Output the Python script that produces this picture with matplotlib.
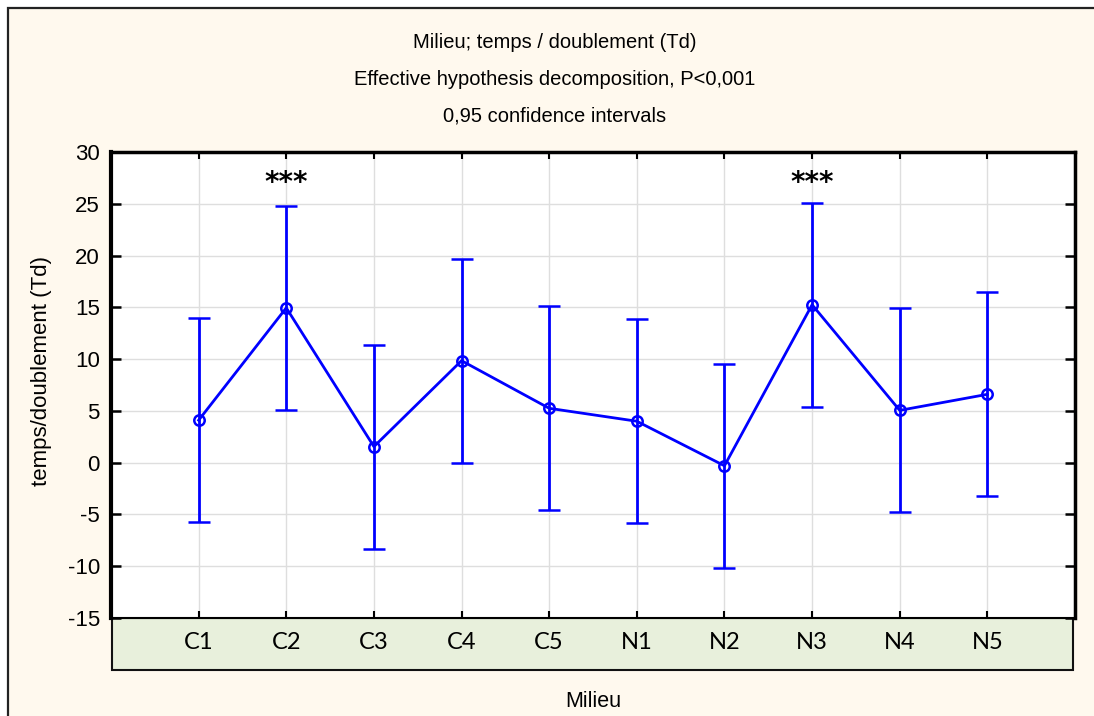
import matplotlib.pyplot as plt
from matplotlib.patches import Rectangle

plt.rcParams['axes.unicode_minus'] = False

categories = ['C1', 'C2', 'C3', 'C4', 'C5', 'N1', 'N2', 'N3', 'N4', 'N5']
means = [4.1, 14.95, 1.55, 9.85, 5.25, 4.0, -0.3, 15.25, 5.05, 6.6]
ci_half = [9.85, 9.85, 9.85, 9.85, 9.85, 9.85, 9.85, 9.85, 9.85, 9.85]
signif = {'C2': '***', 'N3': '***'}
yticks = [-15, -10, -5, 0, 5, 10, 15, 20, 25, 30]

title_lines = ['Milieu; temps / doublement (Td)',
               'Effective hypothesis decomposition, P<0,001',
               '0,95 confidence intervals']

W, H = 1094, 716
bg = '#FFF9EE'
narrow = ['Liberation Sans Narrow', 'Liberation Sans']
fig = plt.figure(figsize=(W / 100, H / 100), dpi=100, facecolor='white')

# cream panel with a dark frame running off the right/bottom edges
fig.patches.append(Rectangle((8 / W, -0.05), 1.1, 1 - 8 / H + 0.05,
                             transform=fig.transFigure, facecolor=bg,
                             edgecolor='#222222', linewidth=1.6, zorder=0))

# green strip holding the category names
fig.patches.append(Rectangle((111.7 / W, 1 - 670 / H), 961 / W, 52 / H,
                             transform=fig.transFigure, facecolor='#E8F0DC',
                             edgecolor='#111111', linewidth=1.5, zorder=1))

ax = fig.add_axes([111 / W, 1 - 618 / H, 964 / W, 466 / H])
ax.set_facecolor('white')
ax.set_zorder(2)

x = list(range(1, len(categories) + 1))
ax.errorbar(x, means, yerr=ci_half, color='#0000FF', lw=2, marker='o',
            ms=7.5, mfc='none', mec='#0000FF', mew=1.8, capsize=8,
            capthick=2, elinewidth=2, zorder=3)

for xi, name in zip(x, categories):
    if name in signif:
        ax.text(xi, 27.0, signif[name], ha='center', va='center',
                fontsize=20, fontweight='bold', family='DejaVu Sans')

ax.set_xlim(0, 11)
ax.set_ylim(-15, 30)
ax.set_yticks(yticks)
ax.set_xticks(x)
ax.set_xticklabels(categories, family='Lato', fontsize=17)
ax.grid(True, color='#DEDEDE', lw=1)
ax.set_axisbelow(True)

ax.tick_params(axis='y', direction='in', length=7, width=1.8, pad=8,
               labelsize=16, right=True)
ax.tick_params(axis='x', direction='in', length=5, width=1.5, pad=10,
               top=True)
for lab in ax.get_yticklabels():
    lab.set_family(narrow)

for side, w in [('left', 3), ('top', 2.5), ('right', 2.5), ('bottom', 1.5)]:
    ax.spines[side].set_linewidth(w)
    ax.spines[side].set_color('black')

ax.set_ylabel('temps/doublement (Td)', fontsize=16, family='Liberation Sans')
ax.yaxis.set_label_coords(-0.061, 0.53)
ax.set_xlabel('Milieu', fontsize=15.5, family='Liberation Sans')
ax.xaxis.set_label_coords(0.5, -0.157)

for i, line in enumerate(title_lines):
    fig.text(555 / W, 1 - (43 + 36.5 * i) / H, line, ha='center', va='center',
             fontsize=14.5, family=narrow)

fig.savefig('out.png', dpi=100, facecolor='white')
